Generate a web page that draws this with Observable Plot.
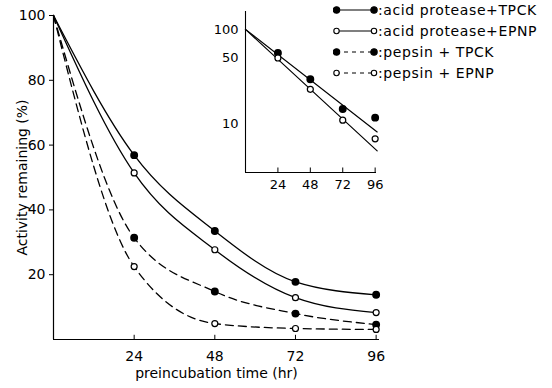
<!DOCTYPE html>
<html>
<head>
<meta charset="utf-8">
<script src="https://cdn.jsdelivr.net/npm/d3@7"></script>
<script src="https://cdn.jsdelivr.net/npm/@observablehq/plot@0.6"></script>
<style>
  body { margin: 0; background: white; }
  #wrap { position: relative; width: 552px; height: 388px; overflow: hidden; background: white; font-family: "DejaVu Sans", sans-serif; }
  #wrap > div.layer { position: absolute; }
  #legend { position: absolute; left: 333px; top: -1px; font-size: 14px; letter-spacing: 0.6px; color: black; }
  #legend .row { display: flex; align-items: center; height: 21px; white-space: nowrap; }
  #legend svg { display: block; }
</style>
</head>
<body>
<div id="wrap">
  <div class="layer" id="main" style="left:0;top:0"></div>
  <div class="layer" id="inset" style="left:200px;top:0"></div>
  <div id="legend"></div>
</div>
<script>
// ---- data ----
const hours = [0, 24, 48, 72, 96];
const acidTPCK = [100, 56.9, 33.5, 17.8, 13.8];
const acidEPNP = [100, 51.4, 27.7, 12.9, 8.3];
const pepsinTPCK = [100, 31.4, 14.8, 8.0, 4.6];
const pepsinEPNP = [100, 22.5, 4.9, 3.4, 3.1];
const mainYTicks = [20, 40, 60, 80, 100];
const xTicks = [24, 48, 72, 96];

// inset (log scale, acid protease only)
const insetHours = [24, 48, 72, 96];
const insetTPCK = [56, 29.5, 14.2, 11.5];
const insetEPNP = [49.6, 23, 10.8, 6.85];
const fitHours = [0, 97.5];
const fitTPCK = [100, 8.1];
const fitEPNP = [100, 5.1];
const insetYTicks = [10, 50, 100];

const seriesNames = [":acid protease+TPCK", ":acid protease+EPNP", ":pepsin + TPCK", ":pepsin + EPNP"];
const seriesDash = [null, null, "8,5", "8,5"];
const seriesFilled = [true, false, true, false];

const seriesValues = [acidTPCK, acidEPNP, pepsinTPCK, pepsinEPNP];
const rows = [];
seriesValues.forEach((vals, s) => hours.forEach((h, i) => rows.push({s, t: h, v: vals[i]})));

const ink = "black";
const lineMarks = [];
seriesValues.forEach((vals, s) => {
  const d = rows.filter(r => r.s === s);
  lineMarks.push(Plot.line(d, {x: "t", y: "v", curve: "monotone-x", stroke: ink, strokeWidth: 1.3,
    strokeDasharray: seriesDash[s] || undefined}));
  const pts = d.filter(r => r.t > 0);
  lineMarks.push(seriesFilled[s]
    ? Plot.dot(pts, {x: "t", y: "v", r: 3.2, fill: ink, stroke: ink})
    : Plot.dot(pts, {x: "t", y: "v", r: 3, fill: "white", stroke: ink, strokeWidth: 1.2}));
});

const main = Plot.plot({
  width: 552, height: 388,
  marginLeft: 53, marginRight: 173, marginTop: 15, marginBottom: 49,
  style: {background: "transparent", fontFamily: "DejaVu Sans, sans-serif", fontSize: "14px", color: "black"},
  x: {domain: [0, 97], ticks: xTicks, tickSize: 0, tickPadding: 12, label: null},
  y: {domain: [0, 100], ticks: mainYTicks, tickSize: 4, tickPadding: 4, label: null},
  marks: [
    Plot.ruleY([0], {stroke: ink, strokeWidth: 1.2}),
    Plot.ruleX([0], {stroke: ink, strokeWidth: 1.2}),
    Plot.ruleX(xTicks, {x: d => d, y1: 0, y2: 1.3, stroke: ink}),
    ...lineMarks,
    Plot.text(["preincubation time (hr)"], {frameAnchor: "bottom", textAnchor: "middle", dy: 38, fontSize: 14, fill: ink}),
    Plot.text(["Activity remaining (%)"], {frameAnchor: "left", textAnchor: "middle", dx: -31, rotate: -90, fontSize: 14, fill: ink})
  ]
});
document.getElementById("main").appendChild(main);

// inset
const insetRows = [];
[insetTPCK, insetEPNP].forEach((vals, s) => insetHours.forEach((h, i) => insetRows.push({s, t: h, v: vals[i]})));
const fitRows = [];
[fitTPCK, fitEPNP].forEach((vals, s) => fitHours.forEach((h, i) => fitRows.push({s, t: h, v: vals[i]})));

const inset = Plot.plot({
  width: 200, height: 200,
  marginLeft: 45, marginRight: 24, marginTop: 11, marginBottom: 28,
  style: {background: "transparent", fontFamily: "DejaVu Sans, sans-serif", fontSize: "13px", color: "black"},
  x: {domain: [0, 97], ticks: xTicks, tickSize: 0, tickPadding: 7, label: null},
  y: {type: "log", domain: [3, 155], ticks: insetYTicks, tickFormat: d => String(d), tickSize: 0, tickPadding: 7, label: null},
  marks: [
    Plot.ruleY([3], {stroke: ink, strokeWidth: 1.1}),
    Plot.ruleX([0], {stroke: ink, strokeWidth: 1.1}),
    Plot.ruleX(xTicks, {x: d => d, y1: 3, y2: 3.35, stroke: ink}),
    Plot.line(fitRows, {x: "t", y: "v", z: "s", stroke: ink, strokeWidth: 1.2}),
    Plot.dot(insetRows.filter(r => r.s === 0), {x: "t", y: "v", r: 3.2, fill: ink, stroke: ink}),
    Plot.dot(insetRows.filter(r => r.s === 1), {x: "t", y: "v", r: 3, fill: "white", stroke: ink, strokeWidth: 1.2})
  ]
});
document.getElementById("inset").appendChild(inset);

// legend
const legend = document.getElementById("legend");
seriesNames.forEach((name, s) => {
  const row = document.createElement("div");
  row.className = "row";
  const svg = d3.create("svg").attr("width", 45).attr("height", 12);
  svg.append("line").attr("x1", 3).attr("x2", 41).attr("y1", 6).attr("y2", 6)
    .attr("stroke", ink).attr("stroke-width", 1.1)
    .attr("stroke-dasharray", seriesDash[s] ? "4,4" : null);
  [3.5, 41].forEach(cx => svg.append("circle").attr("cx", cx).attr("cy", 6).attr("r", seriesFilled[s] ? 3.2 : 2.7)
    .attr("fill", seriesFilled[s] ? ink : "white").attr("stroke", ink).attr("stroke-width", 1.1));
  row.appendChild(svg.node());
  const span = document.createElement("span");
  span.textContent = name;
  row.appendChild(span);
  legend.appendChild(row);
});
</script>
</body>
</html>
